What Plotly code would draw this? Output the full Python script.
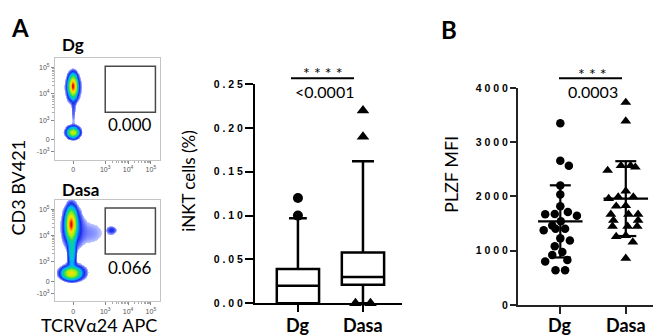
import numpy as np
import plotly.graph_objects as go

W, H = 661, 336

# ---------------- data ----------------
groups = ["Dg", "Dasa"]

# flow panels (display units: decades on a biexponential-like axis)
flow_titles = ["Dg", "Dasa"]
gate_pct = ["0.000", "0.066"]
flow_xtick_vals = [1.6, 3, 4, 5]
flow_xtick_text = ["0", "10<sup>3</sup>", "10<sup>4</sup>", "10<sup>5</sup>"]
flow_ytick_vals = [1.8, 2.25, 3, 4, 5]
flow_ytick_text = ["-10<sup>3</sup>", "0", "10<sup>3</sup>", "10<sup>4</sup>", "10<sup>5</sup>"]
gate_x = [3.0, 5.2]
gate_y = [3.3, 5.05]

# populations: centre x, centre y, spread x, spread y, relative weight
dg_pop_cx = [1.60, 1.60, 1.60, 1.60, 1.62]
dg_pop_cy = [4.29, 4.25, 2.53, 2.55, 3.40]
dg_pop_sx = [0.09, 0.18, 0.12, 0.20, 0.06]
dg_pop_sy = [0.19, 0.32, 0.09, 0.15, 0.35]
dg_pop_w = [1.0, 0.05, 0.40, 0.04, 0.012]

dasa_pop_cx = [1.52, 1.55, 1.55, 1.52, 1.60, 2.30, 3.30]
dasa_pop_cy = [4.43, 4.35, 3.40, 2.57, 2.60, 4.10, 4.20]
dasa_pop_sx = [0.11, 0.24, 0.09, 0.19, 0.32, 0.60, 0.12]
dasa_pop_sy = [0.27, 0.45, 0.40, 0.11, 0.18, 0.40, 0.09]
dasa_pop_w = [1.0, 0.05, 0.10, 0.50, 0.05, 0.008, 0.02]

# iNKT box plot (%)
inkt_q1 = [0.0, 0.021]
inkt_median = [0.020, 0.030]
inkt_q3 = [0.039, 0.058]
inkt_low = [0.0, 0.0]
inkt_high = [0.097, 0.162]
inkt_out_dg = [0.12, 0.10]
inkt_out_dasa = [0.22, 0.19, 0.0, 0.0]
inkt_ticks = [0, 0.05, 0.10, 0.15, 0.20, 0.25]
inkt_ticktext = ["0 . 0 0", "0 . 0 5", "0 . 1 0", "0 . 1 5", "0 . 2 0", "0 . 2 5"]

# PLZF MFI
plzf_dg = [3349, 2656, 2567, 2204, 2034, 1820, 1678, 1643, 1671, 1714, 1541, 1465,
           1404, 1376, 1404, 1227, 1186, 1084, 978, 919, 800, 830, 640, 640]
plzf_dasa = [3733, 3390, 2567, 2540, 2567, 2480, 2100, 1990, 1990, 1960, 1830, 1820,
             1670, 1670, 1670, 1560, 1560, 1450, 1450, 1450, 1280, 1260, 1160, 860]
plzf_mean = [1540, 1960]
plzf_sd = [665, 690]
plzf_ticks = [0, 1000, 2000, 3000, 4000]
plzf_ticktext = ["0", "1 0 0 0", "2 0 0 0", "3 0 0 0", "4 0 0 0"]


# ---------------- helpers ----------------
def px(x):
    return x / W


def py(y):
    return 1 - y / H


def swarm_offsets(values, px_per_val, px_per_cat, diam):
    vals = np.asarray(values, dtype=float)
    order = np.argsort(-vals, kind="stable")
    placed = []
    offs = [0.0] * len(vals)
    for n, i in enumerate(order):
        yp = vals[i] * px_per_val
        best = None
        sgn = 1 if n % 2 == 0 else -1
        for k in range(0, 400):
            cands = [0.0] if k == 0 else [sgn * k * 0.5, -sgn * k * 0.5]
            for c in cands:
                if all((c - a) ** 2 + (yp - b) ** 2 >= diam ** 2 for a, b in placed):
                    best = c
                    break
            if best is not None:
                break
        placed.append((best, yp))
        offs[i] = best / px_per_cat
    # centre rows of identical values
    for v in set(vals.tolist()):
        idx = [j for j in range(len(vals)) if vals[j] == v]
        if len(idx) > 1:
            m = sum(offs[j] for j in idx) / len(idx)
            for j in idx:
                offs[j] -= m
    return offs


THR = -2.3


def density(cx, cy, sx, sy, w, X, Y):
    d = np.zeros_like(X)
    for a, b, s, t, k in zip(cx, cy, sx, sy, w):
        d += k * np.exp(-((X - a) ** 2 / (2 * s ** 2) + (Y - b) ** 2 / (2 * t ** 2)))
    d = d / d.max()
    z = np.log10(np.maximum(d, 1e-12))
    z[z < THR] = np.nan
    return z


fig = go.Figure()

# ---------------- flow density panels ----------------
gx = np.linspace(0.8, 5.4, 231)
gy = np.linspace(1.5, 5.35, 194)
GX, GY = np.meshgrid(gx, gy)
flow_cs = [[0.0, "#c4ccff"], [0.1, "#6a78ff"], [0.25, "#1a2ae8"], [0.45, "#00b4ff"],
           [0.62, "#10d870"], [0.78, "#a8ec10"], [0.9, "#ffe000"], [0.96, "#ff8000"],
           [1.0, "#e80000"]]
pops = [(dg_pop_cx, dg_pop_cy, dg_pop_sx, dg_pop_sy, dg_pop_w),
        (dasa_pop_cx, dasa_pop_cy, dasa_pop_sx, dasa_pop_sy, dasa_pop_w)]
for k, p in enumerate(pops):
    z = density(*p, GX, GY)
    fig.add_trace(go.Heatmap(x=gx, y=gy, z=z, zmin=THR, zmax=0, colorscale=flow_cs,
                             showscale=False, hoverinfo="skip",
                             xaxis="x" if k == 0 else "x2", yaxis="y" if k == 0 else "y2"))

# ---------------- iNKT box plot ----------------
for g in range(2):
    fig.add_trace(go.Box(x=[g], q1=[inkt_q1[g]], median=[inkt_median[g]], q3=[inkt_q3[g]],
                         lowerfence=[inkt_low[g]], upperfence=[inkt_high[g]],
                         width=0.65, whiskerwidth=0.42 if g == 0 else 0.52,
                         fillcolor="white", line=dict(color="black", width=2.5),
                         boxpoints=False, hoverinfo="skip", xaxis="x3", yaxis="y3"))
off_dg = swarm_offsets(inkt_out_dg, 908, 65, 10)
off_da = swarm_offsets(inkt_out_dasa, 908, 65, 15)
fig.add_trace(go.Scatter(x=[0 + o for o in off_dg], y=inkt_out_dg, mode="markers",
                         marker=dict(symbol="circle", size=10, color="black"),
                         cliponaxis=False, xaxis="x3", yaxis="y3"))
fig.add_trace(go.Scatter(x=[1 + o for o in off_da], y=inkt_out_dasa, mode="markers",
                         marker=dict(symbol="triangle-up", size=11, color="black"),
                         cliponaxis=False, xaxis="x3", yaxis="y3"))

# ---------------- PLZF scatter ----------------
o1 = swarm_offsets(plzf_dg, 225 / 4000, 65, 9.5)
o2 = swarm_offsets(plzf_dasa, 225 / 4000, 65, 9.5)
fig.add_trace(go.Scatter(x=[0 + o for o in o1], y=plzf_dg, mode="markers",
                         marker=dict(symbol="circle", size=8.5, color="black"),
                         cliponaxis=False, xaxis="x4", yaxis="y4"))
fig.add_trace(go.Scatter(x=[1 + o for o in o2], y=plzf_dasa, mode="markers",
                         marker=dict(symbol="triangle-up", size=9.5, color="black"),
                         cliponaxis=False, xaxis="x4", yaxis="y4"))
lx, ly = [], []
for g in range(2):
    m, s = plzf_mean[g], plzf_sd[g]
    lx += [g - 0.34, g + 0.34, None, g, g, None, g - 0.16, g + 0.16, None, g - 0.16, g + 0.16, None]
    ly += [m, m, None, m - s, m + s, None, m + s, m + s, None, m - s, m - s, None]
fig.add_trace(go.Scatter(x=lx, y=ly, mode="lines", line=dict(color="black", width=2.2),
                         hoverinfo="skip", xaxis="x4", yaxis="y4"))

# ---------------- axes ----------------
flow_minor = []
for dec in (3, 4):
    flow_minor += [dec + np.log10(m) for m in range(2, 10)]
flow_axis_common = dict(showline=True, linecolor="#c4c4c4", linewidth=1, mirror=True,
                        ticks="outside", ticklen=3, tickcolor="#888", showgrid=False,
                        zeroline=False, tickfont=dict(size=7, color="#555", family="Liberation Sans"))
fx = dict(flow_axis_common, range=[0.8, 5.4], tickvals=flow_xtick_vals, ticktext=flow_xtick_text,
          minor=dict(tickvals=flow_minor, ticklen=2, tickcolor="#aaa", ticks="outside"))
fy = dict(flow_axis_common, range=[1.5, 5.35], tickvals=flow_ytick_vals, ticktext=flow_ytick_text,
          minor=dict(tickvals=flow_minor, ticklen=2, tickcolor="#aaa", ticks="outside"))

tick_font = dict(family="Liberation Sans", size=10.5, color="black", weight="bold")

fig.update_layout(
    width=W, height=H, margin=dict(l=0, r=0, t=0, b=0),
    paper_bgcolor="white", plot_bgcolor="white", showlegend=False,
    font=dict(family="Lato, sans-serif", color="black"),
    xaxis=dict(fx, domain=[px(47), px(152)], anchor="y"),
    yaxis=dict(fy, domain=[py(151), py(46)], anchor="x"),
    xaxis2=dict(fx, domain=[px(47), px(152)], anchor="y2"),
    yaxis2=dict(fy, domain=[py(298), py(193)], anchor="x2"),
    xaxis3=dict(domain=[px(247), px(394)], range=[-0.66, 1.6], anchor="y3",
                showline=True, linecolor="black", linewidth=2, ticks="outside", ticklen=7,
                tickwidth=2, tickcolor="black", tickvals=[0, 1], showticklabels=False,
                showgrid=False, zeroline=False),
    yaxis3=dict(domain=[py(300), py(72.7)], range=[0, 0.25], anchor="x3",
                showline=True, linecolor="black", linewidth=2, ticks="outside", ticklen=8,
                tickwidth=2, tickcolor="black", tickvals=inkt_ticks, ticktext=inkt_ticktext,
                tickfont=tick_font, showgrid=False, zeroline=False),
    xaxis4=dict(domain=[px(510), 1.0], range=[-0.646, 1.66], anchor="y4",
                showline=True, linecolor="#222", linewidth=2, ticks="outside", ticklen=7,
                tickwidth=2, tickcolor="#222", tickvals=[0, 1], showticklabels=False,
                showgrid=False, zeroline=False),
    yaxis4=dict(domain=[py(301.7), py(76.7)], range=[0, 4000], anchor="x4",
                showline=True, linecolor="#222", linewidth=2, ticks="outside", ticklen=6,
                tickwidth=2, tickcolor="#222", tickvals=plzf_ticks, ticktext=plzf_ticktext,
                tickfont=tick_font, showgrid=False, zeroline=False),
)

# gates
for xr, yr in (("x", "y"), ("x2", "y2")):
    fig.add_shape(type="rect", xref=xr, yref=yr, x0=gate_x[0], x1=gate_x[1],
                  y0=gate_y[0], y1=gate_y[1], line=dict(color="#4a4a4a", width=1.5))

# significance bars
fig.add_shape(type="line", xref="paper", yref="paper", x0=px(283), x1=px(346),
              y0=py(66.7), y1=py(66.7), line=dict(color="black", width=2))
fig.add_shape(type="line", xref="paper", yref="paper", x0=px(551), x1=px(614),
              y0=py(66.7), y1=py(66.7), line=dict(color="black", width=2))


def ann(text, x, y, size, bold=False, angle=0, family="Lato", xref="paper", xv=None):
    fig.add_annotation(text=text, x=px(x) if xv is None else xv, y=py(y), xref=xref,
                       yref="paper", showarrow=False, xanchor="center", yanchor="middle",
                       textangle=angle,
                       font=dict(family=family, size=size, color="black",
                                 weight="bold" if bold else "normal"))


ann("A", 12, 14, 24, bold=True)
ann("B", 441, 16, 24, bold=True)
ann(flow_titles[0], 65, 32, 17, bold=True)
ann(flow_titles[1], 72, 182, 17, bold=True)
ann(gate_pct[0], 122, 115, 17)
ann(gate_pct[1], 122, 263, 17)
ann("CD3 BV421", 10, 180, 18, angle=-90)
ann("TCRVα24 APC", 91, 323, 18)
ann("iNKT cells (%)", 181, 174, 17, angle=-90)
ann("PLZF MFI", 443, 167, 18, angle=-90)
ann("* * * *", 315, 61, 16)
ann("&lt;0.0001", 316, 80, 16)
ann("* * *", 584, 62, 16)
ann("0.0003", 585, 80, 16)
# category labels under the x axes
for g, name in enumerate(groups):
    ann(name, 0, 322, 18, bold=True, xref="x3", xv=g)
    ann(name, 0, 322, 18, bold=True, xref="x4", xv=g)

fig.write_html("out.html")
